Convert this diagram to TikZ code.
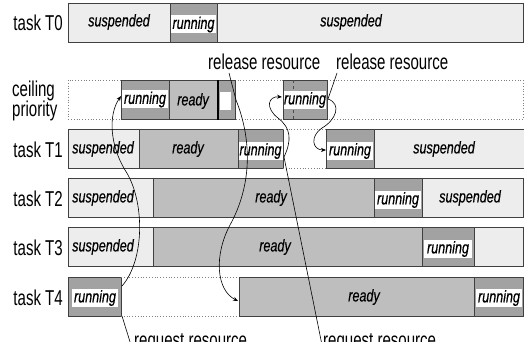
\documentclass[tikz,border=0pt]{standalone}
\usepackage{fontspec}
\usetikzlibrary{arrows.meta}
\newfontfamily\labfont[FakeStretch=0.7]{Liberation Sans}
\newfontfamily\blkfont[FakeStretch=0.74,FakeBold=0.4]{Liberation Sans}
\definecolor{suspc}{HTML}{EDEDED}
\definecolor{readyc}{HTML}{BEBEBE}
\definecolor{runc}{HTML}{A2A2A2}
\begin{document}
\begin{tikzpicture}[x=1pt,y=-1pt,
 blk/.style={draw=black!75, line width=0.7pt, anchor=north west, inner sep=0, minimum height=39, minimum width=#1},
 susp/.style={blk=#1, fill=suspc},
 rdy/.style={blk=#1, fill=readyc},
 run/.style={blk=#1, fill=runc},
 band/.style={fill=white, inner sep=0, minimum height=18, minimum width=#1, font=\blkfont\itshape\fontsize{17}{17}\selectfont},
 btxt/.style={font=\blkfont\itshape\fontsize{17}{17}\selectfont, inner sep=0},
 lab/.style={font=\labfont\fontsize{21.5}{17}\selectfont, inner sep=0},
 gapline/.style={draw=gray, dotted, line width=0.8pt},
 conn/.style={line width=0.6pt, black},
 tip/.style={-{Stealth[length=5pt,width=4pt]}}
]
\useasboundingbox (0,0) rectangle (524,342);
\clip (0,0) rectangle (524,342);

% row labels
\node[lab, anchor=base east] (l0) at (63,31) {task T0};
\node[lab, anchor=base west] (lc1) at (12,97) {ceiling};
\node[lab, anchor=base west] (lc2) at (12,116.5) {priority};
\node[lab, anchor=base east] (l1) at (63,157) {task T1};
\node[lab, anchor=base east] (l2) at (63,206) {task T2};
\node[lab, anchor=base east] (l3) at (63,255) {task T3};
\node[lab, anchor=base east] (l4) at (63,305) {task T4};

% T0
\node[susp=102] (t0a) at (68,3) {};
\node[run=47] (t0b) at (170,3) {};
\node[susp=306] (t0c) at (217,3) {};
\node[btxt] (t0at) at (119,22) {suspended};
\node[band=45] (t0bt) at (193.5,24.5) {running};
\node[btxt] (t0ct) at (351,22) {suspended};

% ceiling priority
\draw[gapline] (68,80) rectangle (523,119);
\node[run=48] (c1) at (121,80) {};
\node[rdy=48] (c2) at (169,80) {};
\node[run=17] (c3) at (218,80) {};
\draw[line width=1.3pt, black] (c3.north west) -- (c3.south west);
\node[fill=white, inner sep=0, minimum width=11, minimum height=18] (c3w) at (225.5,101) {};
\node[band=46] (c1t) at (145,99.5) {running};
\node[btxt] (c2t) at (193,101) {ready};
\node[run=44] (c4) at (283,80) {};
\draw[black!70, dashed, line width=0.6pt] (293,80) -- (293,119);
\node[band=42] (c4t) at (305,100) {running};

% T1
\node[susp=71] (t1a) at (68,129) {};
\node[rdy=99] (t1b) at (139,129) {};
\node[run=45] (t1c) at (238,129) {};
\draw[gapline] (283,129) -- (326,129) (283,168) -- (326,168);
\node[run=48] (t1d) at (326,129) {};
\node[susp=197] (t1e) at (374,129) {};
\node[btxt] (t1at) at (103,149) {suspended};
\node[btxt] (t1bt) at (188,149) {ready};
\node[band=44] (t1ct) at (260.5,151) {running};
\node[band=46] (t1dt) at (350,151) {running};
\node[btxt] (t1et) at (444,149) {suspended};

% T2
\node[susp=85] (t2a) at (68,178) {};
\node[rdy=221] (t2b) at (153,178) {};
\node[run=48] (t2c) at (374,178) {};
\node[susp=101] (t2d) at (422,178) {};
\node[btxt] (t2at) at (103,198) {suspended};
\node[btxt] (t2bt) at (271,198) {ready};
\node[band=46] (t2ct) at (398,200) {running};
\node[btxt] (t2dt) at (470,198) {suspended};

% T3
\node[susp=85] (t3a) at (68,227) {};
\node[rdy=269] (t3b) at (153,227) {};
\node[run=52] (t3c) at (422,227) {};
\node[susp=49] (t3d) at (474,227) {};
\node[btxt] (t3at) at (103,247) {suspended};
\node[btxt] (t3bt) at (275,247) {ready};
\node[band=48] (t3ct) at (448,249) {running};

% T4
\node[run=53] (t4a) at (68,277) {};
\draw[gapline] (121,277) -- (239,277) (121,316) -- (239,316);
\node[rdy=235] (t4b) at (239,277) {};
\node[run=49] (t4c) at (474,277) {};
\node[band=46] (t4at) at (95,298) {running};
\node[btxt] (t4bt) at (364,297) {ready};
\node[band=46] (t4ct) at (499,298) {running};

% annotations
\node[lab, anchor=base west] (rel1) at (208,70) {release resource};
\node[lab, anchor=base west] (rel2) at (336,70) {release resource};
\node[lab, anchor=base west] (req1) at (134,347) {request resource};
\node[lab, anchor=base west] (req2) at (323,347) {request resource};

\coordinate (a0) at (122,286);
\coordinate (a1) at (125,170);
\coordinate (a2) at (121,96);
\coordinate (b0) at (236,100);
\coordinate (b1) at (230,225);
\coordinate (b2) at (238,301);
\coordinate (r1) at (229,73);
\coordinate (r2) at (337,73);
\coordinate (c0) at (328,99);
\coordinate (cm) at (322,128);
\coordinate (c1e) at (326,150);
\coordinate (q1a) at (122,316);
\coordinate (q1b) at (131,345);
\coordinate (q2b) at (322,345);
\coordinate (d1) at (284,157);
\coordinate (dm) at (278,118);
\coordinate (d2) at (282,97);

\draw[conn,tip] (a0) .. controls (145,260) and (145,200) .. (a1) .. controls (110,145) and (108,115) .. (a2);
\draw[conn] (r1) -- (b0);
\draw[conn,tip] (b0) .. controls (252,140) and (252,185) .. (b1) .. controls (214,255) and (216,290) .. (b2);
\draw[conn] (r2) -- (c0);
\draw[conn,tip] (c0) .. controls (342,104) and (336,120) .. (cm) .. controls (310,136) and (312,150) .. (c1e);
\draw[conn] (q1a) -- (q1b);
\draw[conn,tip] (q2b) -- (d1) .. controls (292,140) and (291,128) .. (dm) .. controls (265,108) and (268,96) .. (d2);
\end{tikzpicture}
\end{document}
